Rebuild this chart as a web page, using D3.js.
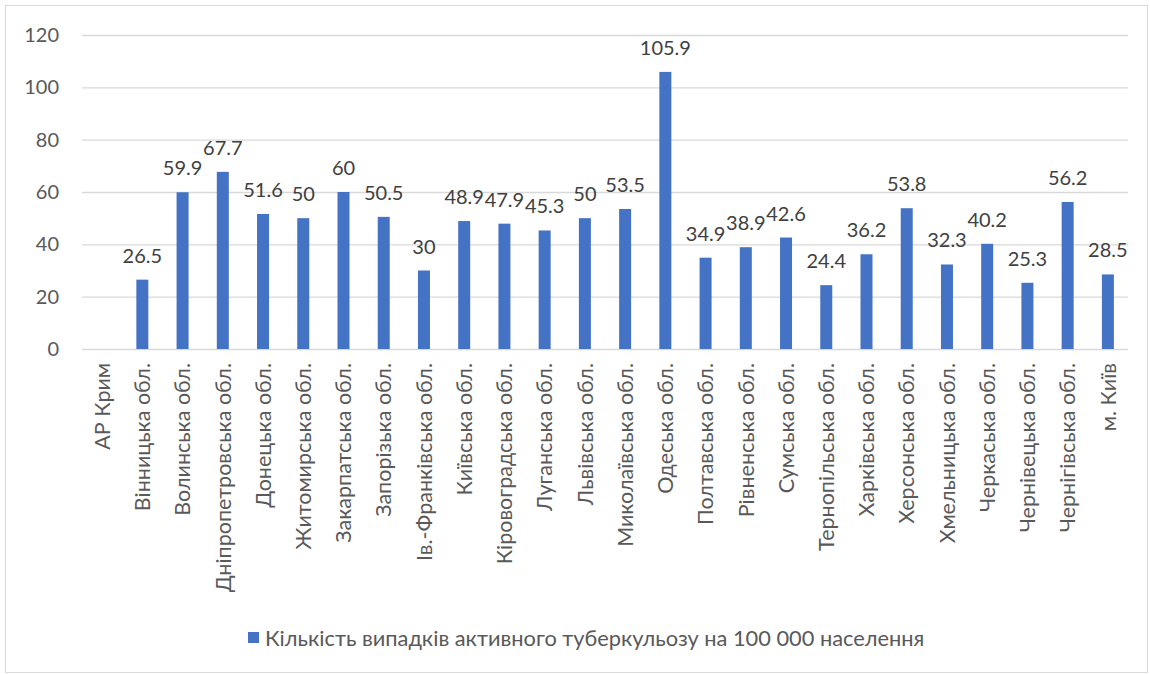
<!DOCTYPE html>
<html>
<head>
<meta charset="utf-8">
<script src="https://cdn.jsdelivr.net/npm/d3@7"></script>
<style>
  body { margin: 0; background: #fff; }
  svg { font-family: Lato, "Open Sans", sans-serif; }
</style>
</head>
<body>
<svg width="1150" height="674"></svg>
<script>
const regions = ['АР Крим', 'Вінницька обл.', 'Волинська обл.', 'Дніпропетровська обл.', 'Донецька обл.',
  'Житомирська обл.', 'Закарпатська обл.', 'Запорізька обл.', 'Ів.-Франківська обл.', 'Київська обл.',
  'Кіровоградська обл.', 'Луганська обл.', 'Львівська обл.', 'Миколаївська обл.', 'Одеська обл.',
  'Полтавська обл.', 'Рівненська обл.', 'Сумська обл.', 'Тернопільська обл.', 'Харківська обл.',
  'Херсонська обл.', 'Хмельницька обл.', 'Черкаська обл.', 'Чернівецька обл.', 'Чернігівська обл.', 'м. Київ'];
const cases = [null, 26.5, 59.9, 67.7, 51.6, 50, 60, 50.5, 30, 48.9, 47.9, 45.3, 50, 53.5, 105.9,
  34.9, 38.9, 42.6, 24.4, 36.2, 53.8, 32.3, 40.2, 25.3, 56.2, 28.5];
const yTicks = [0, 20, 40, 60, 80, 100, 120];
const seriesName = 'Кількість випадків активного туберкульозу на 100 000 населення';

const svg = d3.select('svg');
const margin = {left: 82, right: 22, top: 35, bottom: 325};
const W = 1150, H = 674;

// chart border
svg.append('rect')
    .attr('x', 5.5).attr('y', 5.5)
    .attr('width', W - 8).attr('height', H - 7)
    .attr('fill', 'none').attr('stroke', '#d9d9d9');

const x = d3.scaleBand()
    .domain(regions)
    .range([margin.left, W - margin.right]);
const y = d3.scaleLinear()
    .domain([0, 120])
    .range([H - margin.bottom, margin.top]);

// gridlines
svg.append('g')
    .selectAll('line')
    .data(yTicks)
    .enter().append('line')
        .attr('x1', margin.left).attr('x2', W - margin.right)
        .attr('y1', d => y(d) + 0.5).attr('y2', d => y(d) + 0.5)
        .attr('stroke', '#d9d9d9').attr('stroke-width', 1.3);

// y axis labels
const yAxis = svg.append('g')
    .attr('transform', `translate(${margin.left - 23},0)`)
    .call(d3.axisLeft(y).tickValues(yTicks).tickSize(0).tickPadding(0));
yAxis.select('.domain').remove();
yAxis.selectAll('text')
    .attr('font-family', 'Lato')
    .attr('font-size', 20)
    .attr('fill', '#595959');

// bars
const barW = 12;
const withValue = regions.map((r, i) => ({r, v: cases[i]})).filter(d => d.v != null);
svg.append('g')
    .selectAll('rect')
    .data(withValue)
    .enter().append('rect')
        .attr('x', d => x(d.r) + x.bandwidth() / 2 - barW / 2)
        .attr('y', d => y(d.v))
        .attr('width', barW)
        .attr('height', d => y(0) - y(d.v))
        .attr('fill', '#4472c4');

// data labels
svg.append('g')
    .selectAll('text')
    .data(withValue)
    .enter().append('text')
        .attr('x', d => x(d.r) + x.bandwidth() / 2)
        .attr('y', d => y(d.v) - 17)
        .attr('text-anchor', 'middle')
        .attr('font-size', 20)
        .attr('fill', '#404040')
        .text(d => d.v);

// x labels, rotated
svg.append('g')
    .selectAll('text')
    .data(regions)
    .enter().append('text')
        .attr('transform', d => `translate(${x(d) + x.bandwidth() / 2},${y(0) + 14}) rotate(-90)`)
        .attr('text-anchor', 'end')
        .attr('dy', '0.36em')
        .attr('font-size', 21.5)
        .attr('fill', '#595959')
        .text(d => d);

// legend
const legend = svg.append('g').attr('transform', 'translate(248,632)');
legend.append('rect')
    .attr('width', 11).attr('height', 11)
    .attr('fill', '#4472c4');
legend.append('text')
    .attr('x', 17).attr('y', 6)
    .attr('dy', '0.35em')
    .attr('font-size', 21.8)
    .attr('fill', '#595959')
    .text(seriesName);
</script>
</body>
</html>
